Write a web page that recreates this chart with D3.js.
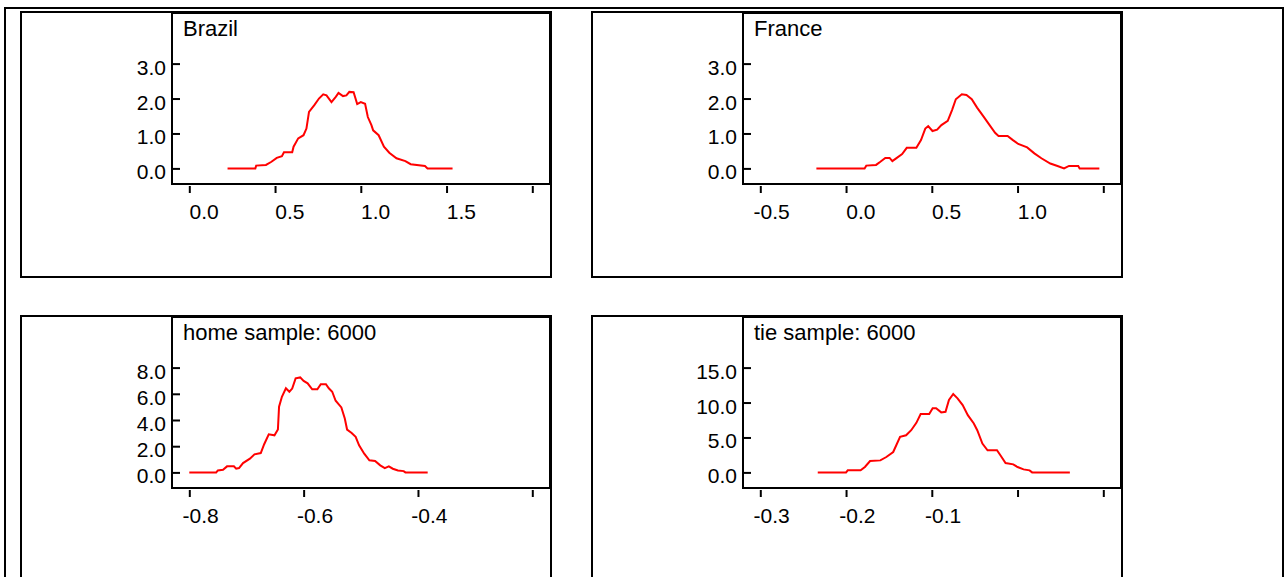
<!DOCTYPE html>
<html>
<head>
<meta charset="utf-8">
<script src="https://cdn.jsdelivr.net/npm/d3@7"></script>
<style>
  html, body { margin: 0; padding: 0; background: #fff; overflow: hidden; }
  svg { display: block; }
  text { font-family: "Liberation Sans", Arial, Helvetica, sans-serif; fill: #000; }
</style>
</head>
<body>
<svg id="chart" width="1285" height="577"></svg>
<script>
// ---- data -------------------------------------------------------------
const panelTitles = ["Brazil", "France", "home sample: 6000", "tie sample: 6000"];

// density estimates, [value, density]
const brazilCurve = [
  [0.223, 0], [0.385, 0], [0.39, 0.08], [0.447, 0.10], [0.479, 0.19], [0.51, 0.30],
  [0.54, 0.35], [0.552, 0.46], [0.60, 0.46], [0.608, 0.62], [0.635, 0.86], [0.666, 0.95],
  [0.683, 1.14], [0.698, 1.62], [0.729, 1.81], [0.756, 2.00], [0.781, 2.12], [0.80, 2.09],
  [0.829, 1.90], [0.854, 2.05], [0.87, 2.16], [0.896, 2.07], [0.916, 2.09], [0.933, 2.19],
  [0.958, 2.18], [0.979, 1.84], [1.00, 1.90], [1.025, 1.85], [1.041, 1.47], [1.062, 1.24],
  [1.072, 1.09], [1.104, 0.95], [1.135, 0.62], [1.166, 0.45], [1.208, 0.29], [1.26, 0.21],
  [1.291, 0.12], [1.374, 0.07], [1.389, 0], [1.535, 0]
];
const franceCurve = [
  [-0.173, 0], [0.108, 0], [0.118, 0.08], [0.175, 0.10], [0.20, 0.19], [0.229, 0.30],
  [0.254, 0.30], [0.27, 0.21], [0.29, 0.28], [0.327, 0.41], [0.354, 0.59], [0.41, 0.59],
  [0.437, 0.81], [0.462, 1.14], [0.479, 1.21], [0.504, 1.07], [0.531, 1.11], [0.556, 1.24],
  [0.593, 1.36], [0.618, 1.67], [0.64, 1.98], [0.675, 2.12], [0.702, 2.10], [0.733, 1.98],
  [0.764, 1.74], [0.802, 1.48], [0.837, 1.24], [0.869, 1.02], [0.889, 0.93], [0.942, 0.93],
  [0.973, 0.81], [1.004, 0.70], [1.056, 0.60], [1.098, 0.43], [1.139, 0.29], [1.191, 0.14],
  [1.233, 0.07], [1.271, 0], [1.30, 0.07], [1.354, 0.07], [1.362, 0], [1.477, 0]
];
const homeCurve = [
  [-0.80, 0], [-0.753, 0], [-0.75, 0.15], [-0.741, 0.20], [-0.734, 0.46], [-0.722, 0.46],
  [-0.718, 0.28], [-0.713, 0.33], [-0.706, 0.71], [-0.694, 1.05], [-0.686, 1.38],
  [-0.675, 1.48], [-0.669, 2.15], [-0.661, 2.91], [-0.651, 2.83], [-0.645, 3.27],
  [-0.643, 5.01], [-0.638, 5.77], [-0.631, 6.42], [-0.625, 6.16], [-0.62, 6.40],
  [-0.614, 7.18], [-0.606, 7.25], [-0.60, 6.98], [-0.593, 6.80], [-0.585, 6.34],
  [-0.576, 6.34], [-0.57, 6.73], [-0.561, 6.73], [-0.556, 6.42], [-0.55, 6.16],
  [-0.544, 5.47], [-0.534, 4.96], [-0.528, 4.12], [-0.524, 3.27], [-0.516, 3.01],
  [-0.509, 2.71], [-0.503, 2.07], [-0.494, 1.43], [-0.485, 0.92], [-0.475, 0.87],
  [-0.466, 0.54], [-0.458, 0.33], [-0.451, 0.46], [-0.444, 0.28], [-0.435, 0.15],
  [-0.425, 0.10], [-0.422, 0], [-0.383, 0]
];
const tieCurve = [
  [-0.233, 0], [-0.20, 0], [-0.198, 0.29], [-0.183, 0.29], [-0.178, 0.77], [-0.172, 1.63],
  [-0.16, 1.72], [-0.153, 2.20], [-0.145, 2.92], [-0.137, 5.08], [-0.13, 5.32],
  [-0.124, 6.04], [-0.118, 7.09], [-0.113, 8.35], [-0.103, 8.35], [-0.099, 9.17],
  [-0.095, 9.17], [-0.089, 8.59], [-0.084, 8.68], [-0.08, 10.36], [-0.075, 11.22],
  [-0.07, 10.60], [-0.064, 9.64], [-0.058, 8.20], [-0.051, 7.00], [-0.047, 6.04],
  [-0.041, 4.13], [-0.035, 3.17], [-0.024, 3.17], [-0.02, 2.45], [-0.014, 1.34],
  [-0.005, 1.15], [0.0, 0.77], [0.007, 0.43], [0.014, 0.29], [0.017, 0], [0.061, 0]
];

// axis ticks and labels
const brazilXTicks = [0, 0.5, 1, 1.5, 2];
const brazilXLabels = ["0.0", "0.5", "1.0", "1.5", ""];
const franceXTicks = [-0.5, 0, 0.5, 1, 1.5];
const franceXLabels = ["-0.5", "0.0", "0.5", "1.0", ""];
const homeXTicks = [-0.8, -0.6, -0.4, -0.2];
const homeXLabels = ["-0.8", "-0.6", "-0.4", ""];
const tieXTicks = [-0.3, -0.2, -0.1, 0, 0.1];
const tieXLabels = ["-0.3", "-0.2", "-0.1", "", ""];

const countryYTicks = [0, 1, 2, 3];
const countryYLabels = ["0.0", "1.0", "2.0", "3.0"];
const homeYTicks = [0, 2, 4, 6, 8];
const homeYLabels = ["0.0", "2.0", "4.0", "6.0", "8.0"];
const tieYTicks = [0, 5, 10, 15];
const tieYLabels = ["0.0", "5.0", "10.0", "15.0"];

// ---- drawing ----------------------------------------------------------
const svg = d3.select("#chart");

// outer page frame
svg.append("rect")
  .attr("x", 5).attr("y", 8)
  .attr("width", 1278).attr("height", 700)
  .attr("fill", "none").attr("stroke", "#000").attr("stroke-width", 2);

const panels = [
  { left: 21, top: 12, height: 265, title: panelTitles[0], curve: brazilCurve,
    xt: brazilXTicks, xl: brazilXLabels, yt: countryYTicks, yl: countryYLabels },
  { left: 592, top: 12, height: 265, title: panelTitles[1], curve: franceCurve,
    xt: franceXTicks, xl: franceXLabels, yt: countryYTicks, yl: countryYLabels },
  { left: 21, top: 316, height: 400, title: panelTitles[2], curve: homeCurve,
    xt: homeXTicks, xl: homeXLabels, yt: homeYTicks, yl: homeYLabels },
  { left: 592, top: 316, height: 400, title: panelTitles[3], curve: tieCurve,
    xt: tieXTicks, xl: tieXLabels, yt: tieYTicks, yl: tieYLabels }
];

panels.forEach(p => {
  const g = svg.append("g").attr("transform", `translate(${p.left},${p.top})`);

  // panel box
  g.append("rect")
    .attr("x", 0).attr("y", 0).attr("width", 530).attr("height", p.height)
    .attr("fill", "none").attr("stroke", "#000").attr("stroke-width", 2);

  const fL = 151, fR = 529, fT = 1, fB = 172;

  const x = d3.scaleLinear()
    .domain([p.xt[0], p.xt[p.xt.length - 1]])
    .range([fL + 17.3, fR - 17.7]);
  const y = d3.scaleLinear()
    .domain([p.yt[0], p.yt[p.yt.length - 1]])
    .range([156.4, 51.6]);

  // plot frame
  g.append("rect")
    .attr("x", fL).attr("y", fT).attr("width", fR - fL).attr("height", fB - fT)
    .attr("fill", "none").attr("stroke", "#000").attr("stroke-width", 2);

  // left axis: inward ticks, labels outside
  const yAxis = d3.axisLeft(y)
    .tickValues(p.yt)
    .tickFormat((d, i) => p.yl[i])
    .tickSizeInner(-8).tickSizeOuter(0).tickPadding(6);
  const ya = g.append("g").attr("transform", `translate(${fL},0)`).call(yAxis);
  ya.select(".domain").remove();
  ya.selectAll(".tick line").attr("stroke", "#000").attr("stroke-width", 2);
  ya.selectAll(".tick text")
    .attr("dy", "0.5em")
    .style("font-size", "21px")
    .style("font-family", '"Liberation Sans", Arial, sans-serif')
    .attr("fill", "#000");

  // bottom axis, detached below the frame
  const xAxis = d3.axisBottom(x)
    .tickValues(p.xt)
    .tickFormat((d, i) => p.xl[i])
    .tickSizeInner(7).tickSizeOuter(0);
  const xa = g.append("g").attr("transform", `translate(0,${fB + 2})`).call(xAxis);
  xa.select(".domain").remove();
  xa.selectAll(".tick line").attr("stroke", "#000").attr("stroke-width", 2);
  xa.selectAll(".tick text")
    .attr("x", 29).attr("y", 32.6).attr("dy", 0)
    .attr("text-anchor", "end")
    .style("font-size", "21px")
    .style("font-family", '"Liberation Sans", Arial, sans-serif')
    .attr("fill", "#000");

  // title
  g.append("text")
    .attr("x", fL + 11).attr("y", 24)
    .style("font-size", "22px")
    .text(p.title);

  // density curve
  const line = d3.line().x(d => x(d[0])).y(d => y(d[1]));
  g.append("path")
    .datum(p.curve)
    .attr("d", line)
    .attr("fill", "none")
    .attr("stroke", "#ff0000")
    .attr("stroke-width", 2);
});
</script>
</body>
</html>
